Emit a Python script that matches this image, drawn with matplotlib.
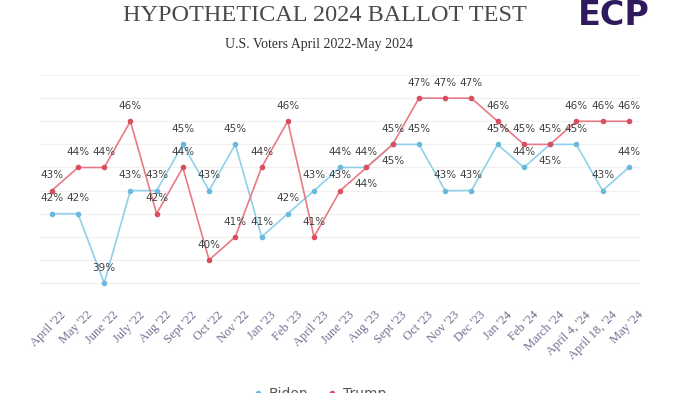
import matplotlib
matplotlib.use("Agg")
import matplotlib.pyplot as plt
import matplotlib.transforms as mtransforms
from matplotlib.lines import Line2D

categories = ["April '22", "May '22", "June '22", "July '22", "Aug '22", "Sept '22",
              "Oct '22", "Nov '22", "Jan '23", "Feb '23", "April '23", "June '23",
              "Aug '23", "Sept '23", "Oct '23", "Nov '23", "Dec '23", "Jan '24",
              "Feb '24", "March '24", "April 4, '24", "April 18, '24", "May '24"]
biden = [42, 42, 39, 43, 43, 45, 43, 45, 41, 42, 43, 44, 44, 45, 45, 43, 43, 45, 44, 45, 45, 43, 44]
trump = [43, 44, 44, 46, 42, 44, 40, 41, 44, 46, 41, 43, 44, 45, 47, 47, 47, 46, 45, 45, 46, 46, 46]

BLUE = "#8fd0ea"
BLUE_M = "#6bb9dc"
RED = "#e77a86"
RED_M = "#d8505f"

fig = plt.figure(figsize=(7, 3.93), dpi=100)
ax = fig.add_axes([0.057, 0.221, 0.857, 0.588])

x = list(range(len(categories)))
ax.plot(x, biden, color=BLUE, lw=1.2, marker="o", ms=3, mfc=BLUE_M, mec=BLUE_M, zorder=3)
ax.plot(x, trump, color=RED, lw=1.2, marker="o", ms=3, mfc=RED_M, mec=RED_M, zorder=3)

for i, (b, t) in enumerate(zip(biden, trump)):
    ax.annotate(f"{b}%", (i, b), xytext=(0, 11), textcoords="offset points",
                ha="center", va="center", fontsize=7.5, color="#404040", family="DejaVu Sans")
    dy = -12 if t == b else 11
    ax.annotate(f"{t}%", (i, t), xytext=(0, dy), textcoords="offset points",
                ha="center", va="center", fontsize=7.5, color="#404040", family="DejaVu Sans")

ax.set_xlim(-0.45, len(categories) - 0.58)
ax.set_ylim(38, 48)
ax.set_yticks(range(38, 49))
ax.set_yticklabels([])
ax.tick_params(axis="y", length=0)
ax.tick_params(axis="x", length=0, pad=2)
ax.grid(axis="y", color="#f0f0f0", lw=0.8)
ax.set_axisbelow(True)
for s in ax.spines.values():
    s.set_visible(False)

ax.set_xticks(x)
ax.set_xticklabels(categories, rotation=45, ha="right", va="top", rotation_mode="anchor",
                   fontsize=9, color="#6e6e92", family="Liberation Serif")
offset = mtransforms.ScaledTranslation(6 / 72, 0, fig.dpi_scale_trans)
for lab in ax.get_xticklabels():
    lab.set_transform(lab.get_transform() + offset)

fig.text(0.464, 0.947, "HYPOTHETICAL 2024 BALLOT TEST", ha="center", va="baseline",
         fontsize=17.5, color="#4a4a4a", family="Liberation Serif")
fig.text(0.456, 0.888, "U.S. Voters April 2022-May 2024", ha="center", va="center",
         fontsize=10, color="#333333", family="Liberation Serif")
fig.text(0.877, 0.936, "ECP", ha="center", va="baseline", fontsize=24, fontweight="bold",
         color="#2e1a5c", family="DejaVu Sans")

handles = [Line2D([], [], color=BLUE_M, marker="o", ms=3, lw=0),
           Line2D([], [], color=RED_M, marker="o", ms=3, lw=0)]
fig.legend(handles, ["Biden", "Trump"], loc="center", bbox_to_anchor=(0.455, -0.002),
           ncol=2, frameon=False, fontsize=10, labelcolor="#555555",
           handletextpad=0.3, columnspacing=1.2, handlelength=1)

fig.savefig("out.png", dpi=100)
